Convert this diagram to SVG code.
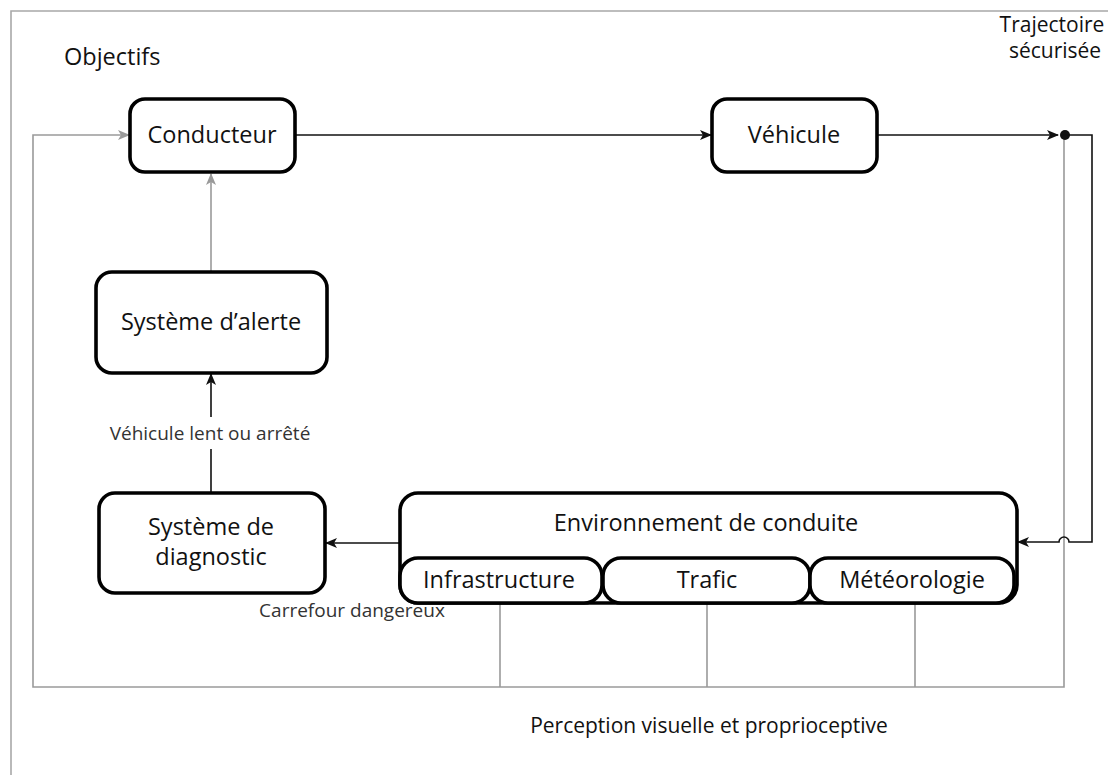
<svg xmlns="http://www.w3.org/2000/svg" width="1108" height="775" viewBox="0 0 1108 775">
<style>
.box{fill:#fff;stroke:#000;stroke-width:3.6}
.t{font-family:"Open Sans","DejaVu Sans",sans-serif;font-size:23.5px;fill:#111;text-anchor:middle}
.lab{font-family:"Open Sans","DejaVu Sans",sans-serif;font-size:19px;fill:#333;text-anchor:middle}
.blk{fill:none;stroke:#111;stroke-width:1.6}
.gry{fill:none;stroke:#9a9a9a;stroke-width:1.6}
.frame{fill:none;stroke:#a8a8a8;stroke-width:1.6}
</style>
<defs>
<marker id="ab" viewBox="0 0 12 10" refX="11" refY="5" markerWidth="12" markerHeight="10" markerUnits="userSpaceOnUse" orient="auto">
<path d="M0,0 L12,5 L0,10 L3,5 Z" fill="#111"/>
</marker>
<marker id="ag" viewBox="0 0 12 10" refX="11" refY="5" markerWidth="12" markerHeight="10" markerUnits="userSpaceOnUse" orient="auto">
<path d="M0,0 L12,5 L0,10 L3,5 Z" fill="#9a9a9a"/>
</marker>
</defs>
<rect width="1108" height="775" fill="#fff"/>
<path class="frame" d="M11,775 L11,11 L1108,11"/>

<g id="connectors">
<path class="gry" d="M1064,135 L1064,687 L33,687 L33,135 L129,135" marker-end="url(#ag)"/>
<path class="gry" d="M500,604 L500,687 M707,604 L707,687 M915,604 L915,687"/>
<path class="blk" d="M295,135 L711,135" marker-end="url(#ab)"/>
<path class="blk" d="M877,135 L1058,135" marker-end="url(#ab)"/>
<circle cx="1065" cy="135" r="5" fill="#111"/>
<path class="blk" d="M1065,135 L1092,135 L1092,542 L1069,542 A5,5 0 0 0 1059,542 L1018,542" marker-end="url(#ab)"/>
<path class="blk" d="M400,543 L326,543" marker-end="url(#ab)"/>
<path class="blk" d="M211,493 L211,449 M211,417 L211,374" marker-end="url(#ab)"/>
<path class="gry" d="M211,272 L211,174" marker-end="url(#ag)"/>
</g>

<g id="conducteur">
<rect class="box" x="130" y="99" width="165" height="73" rx="15"/>
<text class="t" x="212" y="143">Conducteur</text>
</g>
<g id="vehicule">
<rect class="box" x="712" y="99" width="165" height="73" rx="15"/>
<text class="t" x="794" y="143">Véhicule</text>
</g>
<g id="alerte">
<rect class="box" x="96" y="272" width="231" height="101" rx="16"/>
<text class="t" x="211" y="330">Système d’alerte</text>
</g>
<g id="diagnostic">
<rect class="box" x="99" y="493" width="226" height="100" rx="16"/>
<text class="t" x="211" y="535">Système de</text>
<text class="t" x="211" y="565">diagnostic</text>
</g>
<g id="environnement">
<rect class="box" x="400" y="493" width="617" height="110" rx="18"/>
<text class="t" x="706" y="531">Environnement de conduite</text>
</g>
<g id="infrastructure">
<rect class="box" x="400" y="558" width="202" height="45" rx="18"/>
<text class="t" x="499" y="588">Infrastructure</text>
</g>
<g id="trafic">
<rect class="box" x="603" y="558" width="207" height="45" rx="18"/>
<text class="t" x="707" y="588">Trafic</text>
</g>
<g id="meteorologie">
<rect class="box" x="810" y="558" width="204" height="45" rx="18"/>
<text class="t" x="912" y="588">Météorologie</text>
</g>

<g id="labels">
<text class="t" x="64" y="65" style="text-anchor:start">Objectifs</text>
<text class="t" x="1052" y="32" style="font-size:21px">Trajectoire</text>
<text class="t" x="1055" y="58" style="font-size:21px">sécurisée</text>
<text class="lab" x="210" y="440">Véhicule lent ou arrêté</text>
<text class="lab" x="352" y="617">Carrefour dangereux</text>
<text class="t" x="709" y="733" style="font-size:21px">Perception visuelle et proprioceptive</text>
</g>
</svg>
